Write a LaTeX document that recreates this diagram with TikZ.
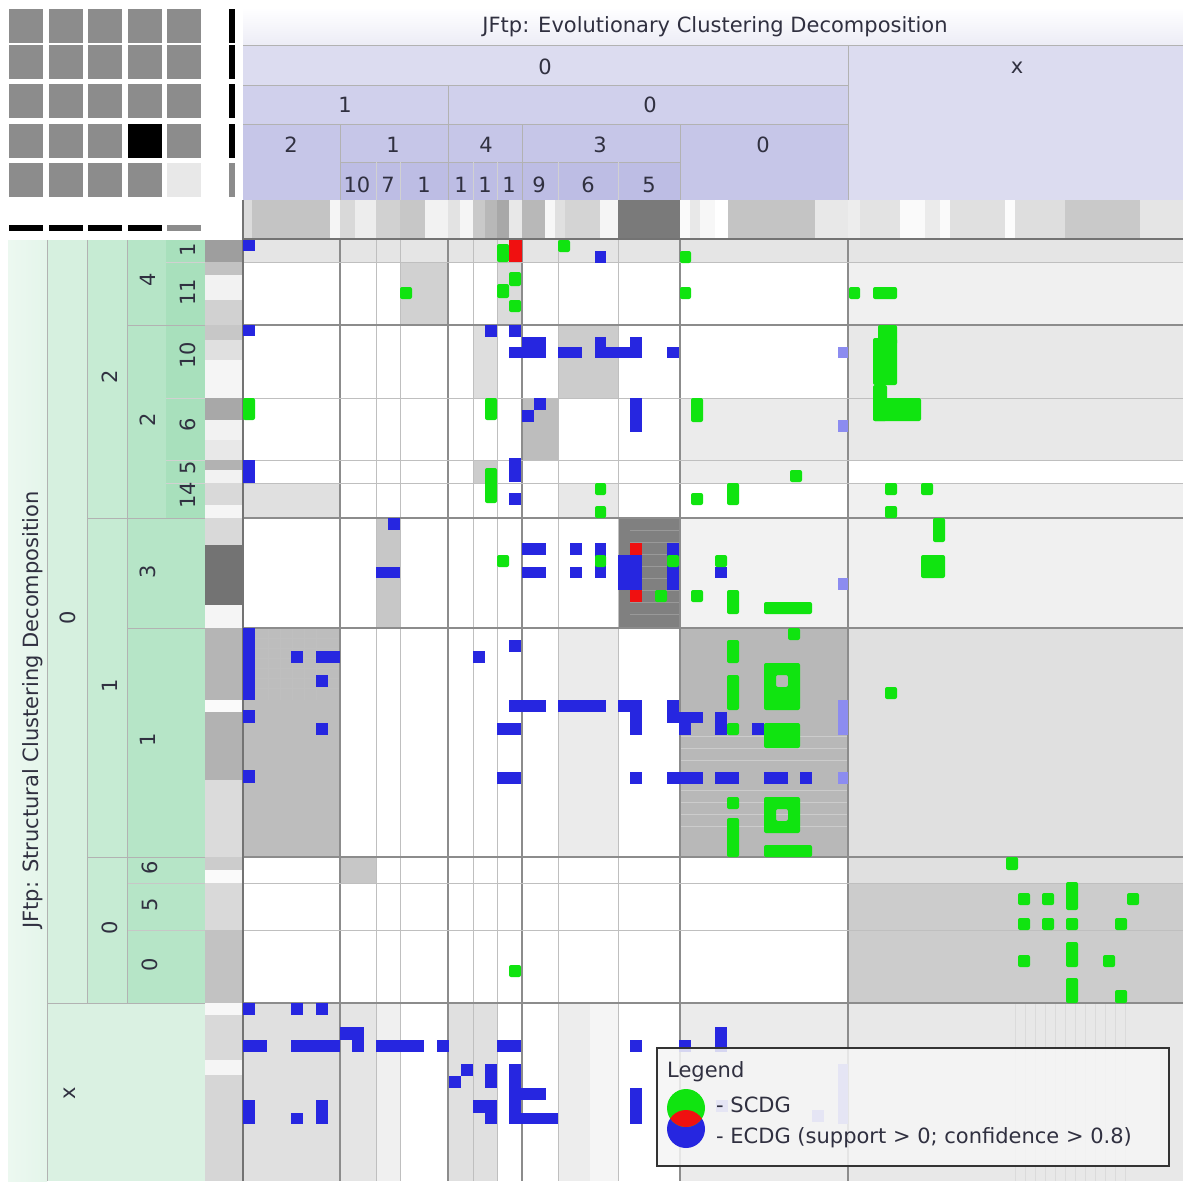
\documentclass[tikz,border=0pt]{standalone}
\usepackage{fontspec}
\setmainfont{DejaVu Sans}
\definecolor{lavA}{HTML}{ECECF6}
\definecolor{lavB}{HTML}{DCDCF0}
\definecolor{lavC}{HTML}{D0D0EC}
\definecolor{lavD}{HTML}{C6C6E8}
\definecolor{lavE}{HTML}{BDBDE4}
\definecolor{grnA}{HTML}{E4F5EA}
\definecolor{grnB}{HTML}{D6F0DF}
\definecolor{grnC}{HTML}{C6EBD3}
\definecolor{grnD}{HTML}{B6E5C7}
\definecolor{grnE}{HTML}{A8E0BC}
\definecolor{cellblue}{HTML}{2626E0}
\definecolor{cellgreen}{HTML}{10E410}
\definecolor{cellred}{HTML}{F01010}
\definecolor{cellpale}{HTML}{8C8CF0}
\definecolor{txt}{HTML}{303040}
\tikzset{
  lbl/.style={font=\fontsize{21}{24}\selectfont, text=txt, inner sep=0pt},
  vlbl/.style={lbl, rotate=90},
  bcell/.style={fill=cellblue},
  gcell/.style={fill=cellgreen, rounded corners=2pt},
  rcell/.style={fill=cellred},
  pcell/.style={fill=cellpale},
  major/.style={draw=black!45, line width=1.3pt},
  minor/.style={draw=black!25, line width=0.9pt},
  hsep/.style={draw=black!30, line width=0.8pt},
}
\begin{document}
\begin{tikzpicture}[x=1pt,y=-1pt]
\useasboundingbox (0,0) rectangle (1183,1181);
\fill[white] (0,0) rectangle (1183,1181);

% ---------- overview in the corner ----------
\foreach \i/\xa in {1/9,2/49,3/88,4/128,5/167}{
  \foreach \j/\ya in {1/9,2/45,3/84,4/124,5/163}{
    \fill[black!45] (\xa,\ya) rectangle ++(34,34);
  }
}
\fill[black] (128,124) rectangle ++(34,34);
\fill[black!9] (167,163) rectangle ++(34,34);
\foreach \ya in {9,45,84,124}{\fill[black] (229,\ya) rectangle ++(6,34);}
\fill[black!45] (229,163) rectangle ++(6,34);
\foreach \xa in {9,49,88,128}{\fill[black] (\xa,225) rectangle ++(34,6);}
\fill[black!45] (167,225) rectangle ++(34,6);

% ---------- column header ----------
\shade[top color=white, bottom color=lavA] (243,8) rectangle (1183,45);
\fill[lavB] (243,45) rectangle (848,85);
\fill[lavB] (848,45) rectangle (1183,200);
\fill[lavC] (243,85) rectangle (848,124);
\fill[lavD] (243,124) rectangle (848,200);
\fill[lavE] (340,162) rectangle (680,200);
\draw[hsep] (243,45) -- (1183,45);
\draw[hsep] (243,85) -- (848,85);
\draw[hsep] (243,124) -- (848,124);
\draw[hsep] (340,162) -- (680,162);
\draw[hsep] (848,45) -- (848,200);
\draw[hsep] (448,85) -- (448,200);
\foreach \xa in {340,522,680}{\draw[hsep] (\xa,124) -- (\xa,200);}
\foreach \xa in {376,400,473,497,558,618}{\draw[black!18, line width=0.7pt] (\xa,162) -- (\xa,200);}

\node[lbl] (ctitle) at (715,27) {JFtp: Evolutionary Clustering Decomposition};
\node[lbl] (c0) at (545,67) {0};
\node[lbl] (cx) at (1017,68) {x};
\node[lbl] (c01) at (345,105) {1};
\node[lbl] (c00) at (650,105) {0};
\node[lbl] (c012) at (291,145) {2};
\node[lbl] (c011) at (393,145) {1};
\node[lbl] (c004) at (486,145) {4};
\node[lbl] (c003) at (600,145) {3};
\node[lbl] (c000) at (763,145) {0};
\node[lbl] (d10) at (357,185) {10};
\node[lbl] (d7) at (388,185) {7};
\node[lbl] (d1a) at (424,185) {1};
\node[lbl] (d1b) at (461,185) {1};
\node[lbl] (d1c) at (485,185) {1};
\node[lbl] (d1d) at (509,185) {1};
\node[lbl] (d9) at (539,185) {9};
\node[lbl] (d6) at (588,185) {6};
\node[lbl] (d5) at (649,185) {5};

% grey strip under the column header
\foreach \a/\b/\g in {243/252/86,252/330/77,330/340/96,340/355/85,355/376/93,376/400/82,400/425/78,425/448/95,
  448/460/89,460/473/96,473/485/79,485/497/72,497/509/66,509/522/91,522/545/72,545/555/97,555/565/88,565/600/83,
  600/618/96,618/680/48,680/690/98,690/700/91,700/715/97,715/728/100,728/815/77,815/848/91,848/860/93,860/900/89,
  900/925/98,925/940/92,940/950/98,950/1005/88,1005/1015/99,1015/1065/87,1065/1140/79,1140/1183/90}{
  \fill[black!\the\numexpr100-\g\relax] (\a,200) rectangle (\b,238);
}

% ---------- row header ----------
\shade[left color=grnA!70!white, right color=grnA] (8,240) rectangle (47,1181);
\fill[grnB] (47,240) rectangle (87,1003);
\fill[grnB!90!white] (47,1003) rectangle (205,1181);
\fill[grnC] (87,240) rectangle (127,1003);
\fill[grnD] (127,240) rectangle (205,1003);
\fill[grnE] (166,240) rectangle (205,518);
\draw[hsep] (47,1003) -- (205,1003);
\draw[hsep] (87,518) -- (205,518);
\draw[hsep] (87,857) -- (205,857);
\draw[hsep] (127,325) -- (205,325);
\draw[hsep] (127,628) -- (205,628);
\foreach \ya in {262,398,460,483}{\draw[black!18, line width=0.7pt] (166,\ya) -- (205,\ya);}
\foreach \ya in {883,930}{\draw[black!22, line width=0.7pt] (127,\ya) -- (205,\ya);}
\draw[hsep] (47,240) -- (47,1181);
\draw[hsep] (87,240) -- (87,1003);
\draw[hsep] (127,240) -- (127,1003);

\node[vlbl] (rtitle) at (33,710) {JFtp: Structural Clustering Decomposition};
\node[vlbl] (r0) at (68,618) {0};
\node[vlbl] (rx) at (70,1093) {x};
\node[vlbl] (r02) at (110,377) {2};
\node[vlbl] (r01) at (110,686) {1};
\node[vlbl] (r00) at (110,928) {0};
\node[vlbl] (r024) at (148,280) {4};
\node[vlbl] (r022) at (148,420) {2};
\node[vlbl] (r013) at (148,572) {3};
\node[vlbl] (r011) at (148,740) {1};
\node[vlbl] (r006) at (150,868) {6};
\node[vlbl] (r005) at (150,905) {5};
\node[vlbl] (r000) at (150,965) {0};
\node[vlbl] (s1) at (188,250) {1};
\node[vlbl] (s11) at (188,292) {11};
\node[vlbl] (s10) at (188,355) {10};
\node[vlbl] (s6) at (188,425) {6};
\node[vlbl] (s5) at (188,468) {5};
\node[vlbl] (s14) at (188,495) {14};

% grey strip beside the row header
\foreach \a/\b/\g in {240/262/62,262/275/76,275/300/95,300/325/82,325/340/78,340/360/88,360/398/96,398/420/66,
  420/440/95,440/460/91,460/470/70,470/483/95,483/505/85,505/518/96,518/545/85,545/605/45,605/628/96,
  628/700/71,700/712/98,712/780/70,780/857/86,857/870/80,870/883/98,883/930/85,930/1003/76,1003/1015/97,
  1015/1060/85,1060/1075/96,1075/1181/84}{
  \fill[black!\the\numexpr100-\g\relax] (205,\a) rectangle (243,\b);
}

% ---------- matrix background ----------
\fill[black!10] (243,240) rectangle (1183,262);
\fill[black!6] (848,262) rectangle (1183,460);
\fill[black!9] (848,325) rectangle (1183,460);
\fill[black!6] (848,483) rectangle (1183,857);
\fill[black!12] (848,628) rectangle (1183,857);
\fill[black!18] (400,262) rectangle (448,325);
\fill[black!14] (497,262) rectangle (522,325);
\fill[black!13] (473,325) rectangle (497,398);
\fill[black!20] (558,325) rectangle (618,398);
\fill[black!26] (522,398) rectangle (558,460);
\fill[black!8] (680,398) rectangle (848,460);
\fill[black!7] (680,460) rectangle (848,483);
\fill[black!12] (243,483) rectangle (340,518);
\fill[black!9] (558,483) rectangle (618,518);
\fill[black!20] (473,460) rectangle (497,483);
\fill[black!22] (376,518) rectangle (400,628);
\fill[black!50] (618,518) rectangle (680,628);
\fill[black!5] (680,518) rectangle (848,628);
\fill[black!26] (243,628) rectangle (340,857);
\fill[black!8] (558,628) rectangle (618,857);
\fill[black!28] (680,628) rectangle (848,857);
\fill[black!22] (340,857) rectangle (376,883);
\fill[black!20] (848,857) rectangle (1183,1003);
\fill[black!12] (848,857) rectangle (1183,883);
% bottom block of rows
\fill[black!12] (243,1003) rectangle (340,1181);
\fill[black!10] (340,1003) rectangle (376,1181);
\fill[black!6] (376,1003) rectangle (400,1181);
\fill[black!12] (449,1003) rectangle (497,1181);
\fill[black!7] (558,1003) rectangle (590,1181);
\fill[black!4] (590,1003) rectangle (618,1181);
\fill[black!8] (680,1003) rectangle (848,1181);
\fill[black!9] (848,1003) rectangle (1183,1181);

% stripe texture inside the dense blocks
\foreach \ya in {638,648,658,668,678,688}{\draw[white!75!black, line width=0.7pt] (255,\ya) -- (340,\ya);}
\foreach \xa in {268,280,292,304,316}{\draw[white!75!black, line width=0.7pt] (\xa,628) -- (\xa,700);}
\foreach \ya in {736,748,760,790,802,814,826}{\draw[white!80!black, line width=0.7pt] (680,\ya) -- (848,\ya);}
\foreach \ya in {893,905,918,942,955,967,978,990}{\draw[white!80!black, line width=0.7pt] (848,\ya) -- (1183,\ya);}
\foreach \ya in {530,542,554,566,578,590,602,614}{\draw[black!40, line width=0.6pt] (630,\ya) -- (680,\ya);}
\foreach \xa in {1015,1025,1035,1045,1055,1065,1075,1085,1095,1105,1115,1125}{\draw[black!14, line width=0.6pt] (\xa,1003) -- (\xa,1181);}

% ---------- grid ----------
\foreach \xa in {376,400,473,497,558,618}{\draw[minor] (\xa,240) -- (\xa,1181);}
\foreach \xa in {340,448,522,680,848}{\draw[major] (\xa,240) -- (\xa,1181);}
\foreach \ya in {262,398,460,483,883,930}{\draw[minor] (243,\ya) -- (1183,\ya);}
\foreach \ya in {325,518,628,857,1003}{\draw[major] (243,\ya) -- (1183,\ya);}
\draw[black!55, line width=2pt] (243,239) -- (1183,239);
\draw[black!55, line width=1.5pt] (243,200) -- (243,1181);

% ---------- dependency cells ----------
\foreach \a/\b/\c/\d in {
 243/240/255/251, 595/251/606/263, 243/325/255/336,
 485/325/497/337, 509/325/521/337, 522/337/546/358, 509/347/522/358,
 558/347/582/358, 595/337/606/358, 606/347/630/358, 630/337/642/358, 667/347/679/358,
 534/398/546/410, 522/410/534/422, 630/398/642/432,
 243/460/255/483, 509/458/521/482, 509/493/521/505,
 388/518/400/530, 376/567/400/578,
 522/543/546/555, 522/567/546/578, 570/543/582/555, 570/567/582/578,
 595/543/606/578, 618/555/642/590, 667/543/679/590, 715/567/727/578,
 243/628/255/700, 243/710/255/723, 243/770/255/783,
 291/651/303/663, 316/651/340/663, 316/675/328/687, 316/723/328/735,
 473/651/485/663, 509/640/521/652,
 509/700/546/712, 558/700/606/712, 618/700/642/712, 630/712/642/735,
 497/723/521/735, 497/772/521/784, 630/772/642/784,
 667/700/679/723, 679/712/703/723, 679/723/691/735, 715/712/727/735, 752/723/764/735,
 667/772/703/784, 715/772/739/784, 764/772/788/784, 800/772/812/784,
 243/1003/255/1015, 291/1003/303/1015, 316/1003/328/1015,
 243/1040/267/1052, 291/1040/340/1052, 340/1027/364/1040, 352/1040/364/1052,
 376/1040/424/1052, 437/1040/449/1052,
 497/1040/521/1052, 630/1040/642/1052, 679/1040/691/1052, 715/1027/727/1052,
 461/1064/473/1076, 449/1076/461/1088, 485/1064/497/1088, 473/1100/485/1113, 485/1100/497/1124,
 509/1064/521/1124, 521/1088/546/1100, 509/1113/558/1124,
 630/1088/642/1124, 243/1100/255/1124, 291/1113/303/1124, 316/1100/328/1124}{
  \fill[bcell] (\a,\b) rectangle (\c,\d);
}
\foreach \a/\b/\c/\d in {838/347/848/358, 838/420/848/432, 838/578/848/590, 838/700/848/735,
 838/772/848/784, 838/1064/848/1124, 812/1110/824/1122, 716/1100/728/1112}{
  \fill[pcell] (\a,\b) rectangle (\c,\d);
}
\foreach \a/\b/\c/\d in {
 497/244/509/262, 558/240/570/252, 680/251/691/263,
 400/287/412/299, 509/272/521/286, 497/284/509/298, 509/300/521/312,
 680/287/691/299, 849/287/860/299, 873/287/897/299,
 878/325/897/345, 873/338/897/385, 873/385/887/421, 873/398/921/421,
 243/398/255/420, 485/398/497/420, 691/398/703/422,
 485/468/497/503, 790/470/802/482,
 595/483/606/495, 595/506/606/518, 691/493/703/505, 727/483/739/505,
 885/483/897/495, 885/506/897/518, 921/483/933/495,
 497/555/509/567, 595/555/606/567, 655/590/667/602, 667/555/679/567, 715/555/727/567,
 691/590/703/602, 727/590/739/614, 764/602/812/614,
 933/518/945/542, 921/555/945/578,
 788/628/800/640, 727/640/739/663, 727/675/739/710, 727/723/739/735,
 764/723/800/748, 885/687/897/699,
 727/797/739/809, 727/818/739/857, 764/845/812/857,
 1006/857/1018/870,
 1018/893/1030/905, 1042/893/1054/905, 1066/882/1078/910, 1127/893/1139/905,
 1018/918/1030/930, 1042/918/1054/930, 1066/918/1078/930, 1115/918/1127/930,
 1066/942/1078/967, 1018/955/1030/967, 1103/955/1115/967, 1066/978/1078/1003, 1115/990/1127/1003,
 509/965/521/977}{
  \fill[gcell] (\a,\b) rectangle (\c,\d);
}
% two ring-shaped clusters
\fill[gcell, even odd rule] (764,663) rectangle (800,710) (776,675) rectangle (788,687);
\fill[gcell, even odd rule] (764,797) rectangle (800,833) (776,809) rectangle (788,821);
\foreach \a/\b/\c/\d in {509/240/522/262, 630/543/642/555, 630/590/642/602}{
  \fill[rcell] (\a,\b) rectangle (\c,\d);
}

% ---------- legend ----------
\node[draw=black!80, line width=1.5pt, fill=black!4, fill opacity=0.85, minimum width=512pt,
      minimum height=118pt, inner sep=0pt] (legend) at (913,1107) {};
\node[lbl, anchor=west] (legtitle) at (667,1072) {Legend};
\fill[cellblue] (686,1129) circle (19);
\fill[cellgreen] (686,1108) circle (19);
\begin{scope}
  \clip (686,1108) circle (19);
  \fill[cellred] (686,1129) circle (19);
\end{scope}
\node[lbl, anchor=west] (legscdg) at (716,1105) {- SCDG};
\node[lbl, anchor=west] (legecdg) at (716,1138) {- ECDG (support > 0; confidence > 0.8)};
\end{tikzpicture}
\end{document}
